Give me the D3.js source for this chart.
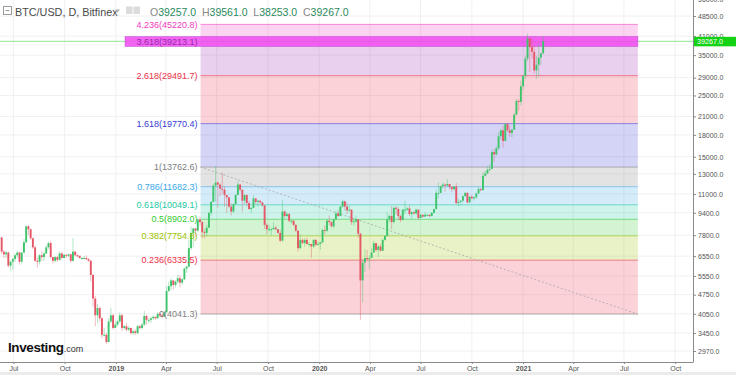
<!DOCTYPE html>
<html>
<head>
<meta charset="utf-8">
<script src="https://cdn.jsdelivr.net/npm/d3@7"></script>
<style>
body { margin: 0; background: #fff; }
svg { display: block; font-family: "Liberation Sans", Arial, sans-serif; }
</style>
</head>
<body>
<div id="chart"></div>
<script>
// BTC/USD Bitfinex, 4-day candles (open = previous close)
const candleStart = "2018-06-06"
const candleStepDays = 4
const closes = [
  7650, 6800, 6650, 6750, 6050, 6250, 6400, 6600, 6750, 6250, 6750, 7350, 8400, 8200, 7600, 7050, 6300, 6250, 6600, 6500,
  6700, 7050, 7300, 6500, 6300, 6500, 6350, 6700, 6450, 6620, 6580, 6650, 6300, 6800, 6600, 6570, 6450, 6450, 6450, 6380,
  6300, 5600, 4600, 4000, 4250, 3900, 3400, 3400, 3200, 3800, 4000, 3600, 3700, 3800, 4000, 3600, 3650, 3550, 3600, 3450,
  3500, 3450, 3650, 3600, 3700, 3980, 3850, 3850, 3900, 3950, 3900, 4050, 4000, 3950, 4100, 4900, 5100, 5350, 5150, 5300,
  5450, 5250, 5400, 5900, 6000, 7000, 7950, 8250, 8100, 8900, 8700, 8000, 7950, 8300, 9400, 10300, 11800, 12100, 11900, 11500,
  11400, 10900, 10700, 9900, 9500, 10100, 10900, 11900, 11400, 10400, 10900, 10200, 9700, 9800, 10600, 10300, 10400, 10250, 10000, 8500,
  8200, 8200, 8200, 8300, 8200, 7950, 7450, 9500, 9150, 9300, 8800, 8800, 8500, 8100, 7000, 7500, 7300, 7500, 7250, 7250,
  7100, 7500, 7200, 7250, 7350, 8150, 8100, 8800, 8700, 8400, 8900, 9350, 9150, 9900, 10350, 9900, 9600, 9650, 8700, 8750,
  8900, 7900, 5350, 6200, 6450, 6400, 6450, 6750, 7300, 6900, 7100, 6850, 7500, 7750, 8900, 9150, 8700, 9800, 9700, 9150,
  8850, 9650, 9650, 9750, 9300, 9450, 9350, 9650, 9000, 9250, 9100, 9250, 9250, 9150, 9400, 9700, 11100, 11100, 11750, 11900,
  11800, 11950, 11650, 11450, 11700, 10200, 10300, 10400, 10800, 11100, 10250, 10750, 10600, 10700, 11050, 11450, 11350, 12800, 13050, 13450,
  13550, 15600, 15300, 16100, 17800, 18700, 17100, 19700, 18700, 18300, 18800, 21300, 23900, 23700, 27000, 29400, 34000, 40200, 37400, 36000,
  30800, 32300, 34300, 35500, 39267
]
const highs = [
  7750, 7700, 6900, 6850, 6800, 6300, 6450, 6700, 6850, 6800, 6750, 7550, 8450, 8500, 8250, 7650, 7150, 6500, 6650, 6850,
  6800, 7150, 7400, 7450, 6500, 6550, 6550, 6800, 6800, 6650, 6650, 6700, 6700, 7600, 6850, 6650, 6570, 6500, 6550, 6600,
  6450, 6350, 5650, 4700, 4400, 4300, 3950, 3600, 3450, 3900, 4250, 4050, 3800, 3850, 4100, 4050, 3700, 3750, 3650, 3600,
  3550, 3550, 3700, 3700, 3750, 4150, 4000, 3900, 3950, 4000, 3950, 4100, 4100, 4050, 4150, 5100, 5300, 5450, 5350, 5350,
  5600, 5600, 5450, 5950, 6050, 7500, 8400, 8300, 8250, 8950, 9100, 8800, 8200, 8500, 9450, 10350, 11900, 13880, 12200, 12000,
  13200, 11700, 10900, 10700, 10200, 10150, 11000, 12300, 11950, 11400, 11000, 10950, 10400, 9850, 10900, 10600, 10450, 10400, 10300, 10000,
  8600, 8500, 8300, 8700, 8450, 8200, 8150, 10500, 9600, 9450, 9400, 8900, 8850, 8550, 8100, 7850, 7600, 7600, 7650, 7350,
  7250, 7550, 7550, 7400, 7400, 8250, 8450, 8900, 9200, 8750, 8950, 9550, 9600, 9950, 10500, 10400, 10250, 10000, 9650, 8900,
  9200, 8900, 7950, 6400, 6950, 6900, 6600, 7000, 7450, 7300, 7200, 7250, 7600, 7800, 9450, 9250, 9950, 9900, 9950, 9850,
  9250, 9700, 10400, 9850, 10000, 9500, 9550, 9750, 9650, 9300, 9200, 9450, 9300, 9250, 9450, 9700, 11400, 12100, 11800, 12100,
  12000, 12450, 11950, 11700, 11750, 12050, 10600, 10450, 10850, 11150, 11150, 10800, 10950, 10800, 11100, 11700, 11550, 13200, 13350, 13850,
  14100, 15950, 15950, 16400, 18450, 18950, 19450, 19850, 19900, 19400, 18900, 21600, 24300, 24200, 28300, 29700, 34800, 41950, 40500, 40100,
  37800, 34800, 38500, 35800, 40900
]
const lows = [
  7450, 6650, 6450, 6450, 5950, 5800, 5850, 6250, 6450, 6100, 6150, 6700, 7300, 7800, 7500, 6950, 6250, 5950, 6100, 6300,
  6300, 6650, 6950, 6400, 6150, 6200, 6250, 6300, 6400, 6450, 6450, 6500, 6200, 6250, 6550, 6500, 6420, 6350, 6400, 6350,
  6250, 5300, 4300, 3650, 3750, 3800, 3300, 3350, 3150, 3200, 3750, 3550, 3600, 3650, 3750, 3500, 3550, 3500, 3500, 3400,
  3400, 3400, 3400, 3550, 3550, 3650, 3700, 3750, 3750, 3850, 3850, 3900, 3950, 3900, 3950, 4100, 4850, 4950, 4950, 5050,
  5200, 5050, 5150, 5350, 5700, 5950, 6900, 7050, 7700, 8000, 8450, 7600, 7600, 7700, 8300, 9200, 10300, 10300, 9800, 10800,
  11000, 9900, 9400, 9800, 9200, 9400, 10050, 10900, 11200, 9500, 10100, 9900, 9650, 9350, 9800, 10100, 9900, 10150, 9900, 8200,
  7850, 8050, 7800, 8200, 8100, 7900, 7350, 7400, 8950, 9050, 8700, 8600, 8400, 8000, 6800, 6950, 7250, 7100, 7200, 7050,
  6450, 7000, 7100, 7150, 6900, 7300, 7850, 8000, 8500, 8300, 8250, 8850, 9100, 9150, 9800, 9550, 9300, 9500, 8500, 8450,
  8650, 7650, 3850, 4450, 5750, 6300, 5900, 6450, 6750, 6800, 6500, 6800, 6850, 7450, 7700, 8700, 8200, 8600, 9300, 8850,
  8700, 8850, 9300, 9550, 9150, 8950, 9250, 9250, 8850, 9000, 9050, 9150, 9150, 9050, 9100, 9350, 9650, 10600, 11050, 11500,
  11200, 11700, 11400, 11150, 11300, 10050, 9900, 10000, 10250, 10750, 10150, 10250, 10550, 10400, 10550, 11000, 11250, 11350, 12700, 12950,
  13250, 13550, 14400, 15150, 15850, 17300, 16200, 17500, 18500, 17700, 17600, 18900, 21300, 22000, 23000, 26000, 28600, 33200, 30400, 33900,
  30000, 28800, 29200, 32300, 35500
]

const xTickDates = ["2018-07-01", "2018-10-01", "2019-01-01", "2019-04-01", "2019-07-01", "2019-10-01", "2020-01-01",
  "2020-04-01", "2020-07-01", "2020-10-01", "2021-01-01", "2021-04-01", "2021-07-01", "2021-10-01"]
const xTickLabels = ["Jul", "Oct", "2019", "Apr", "Jul", "Oct", "2020", "Apr", "Jul", "Oct", "2021", "Apr", "Jul", "Oct"]
const yTicks = [56000, 48500, 41000, 35000, 29000, 25000, 21000, 18000, 15000, 13000, 11000, 9400, 7800, 6550, 5550, 4750, 4050, 3450, 2970]

const fibLevels = [0, 0.236, 0.382, 0.5, 0.618, 0.786, 1, 1.618, 2.618, 3.618, 4.236]
const fibPrices = [4041.3, 6335.5, 7754.8, 8902.0, 10049.1, 11682.3, 13762.6, 19770.4, 29491.7, 39213.1, 45220.8]
const fibColors = ["#808080", "#ec3048", "#9bc300", "#33cc33", "#1dc9a4", "#3aa8e8", "#808080", "#3a3ad6", "#ec3048", "#9c27b0", "#f03cc0"]
const fibFrom = "2019-06-02"
const fibTo = "2021-07-26"

const lastPrice = 39267.0
const ohlc = [["O", "39257.0"], ["H", "39561.0"], ["L", "38253.0"], ["C", "39267.0"]]

const W = 736, H = 375
const plotRight = 693, plotBottom = 362
const parse = d3.timeParse("%Y-%m-%d")

let svg = d3.select("#chart").append("svg").attr("width", W).attr("height", H)
svg.append("rect").attr("width", W).attr("height", H).attr("fill", "#fff")
svg.append("defs").append("clipPath").attr("id", "plot")
  .append("rect").attr("width", plotRight).attr("height", plotBottom)

let x = d3.scaleTime()
  .domain([parse("2018-06-07"), parse("2021-11-02")])
  .range([0, plotRight])
let y = d3.scaleLog()
  .domain([2970, 48500])
  .range([351, 16])

// grid
let grid = svg.append("g").attr("clip-path", "url(#plot)")
grid.selectAll(".gv").data(xTickDates.map(parse)).enter().append("line")
  .attr("x1", d => x(d)).attr("x2", d => x(d)).attr("y1", 0).attr("y2", plotBottom)
  .attr("stroke", "#f0f0f0")
grid.selectAll(".gh").data(yTicks).enter().append("line")
  .attr("x1", 0).attr("x2", plotRight).attr("y1", d => y(d)).attr("y2", d => y(d))
  .attr("stroke", "#f0f0f0")

// fib retracement
let fx1 = x(parse(fibFrom)), fx2 = x(parse(fibTo))
let fib = svg.append("g").attr("clip-path", "url(#plot)")
fib.selectAll(".band").data(fibPrices.slice(1)).enter().append("rect")
  .attr("x", fx1).attr("width", fx2 - fx1)
  .attr("y", d => y(d))
  .attr("height", (d, i) => y(fibPrices[i]) - y(d))
  .attr("fill", (d, i) => fibColors[i + 1])
  .attr("fill-opacity", 0.22)

// current price line
svg.append("line").attr("clip-path", "url(#plot)")
  .attr("x1", 0).attr("x2", plotRight).attr("y1", y(lastPrice)).attr("y2", y(lastPrice))
  .attr("stroke", "#8fe98f").attr("stroke-width", 1)

// highlighted 3.618 level
let hiY = y(fibPrices[9])
svg.append("rect")
  .attr("x", 125).attr("width", fx2 - 125)
  .attr("y", hiY - 5).attr("height", 10)
  .attr("fill", "#f04ef0").attr("fill-opacity", 0.88)
  .attr("stroke", "#b040c8").attr("stroke-opacity", 0.5).attr("stroke-width", 0.8)

fib.selectAll(".lvl").data(fibPrices).enter().append("line")
  .attr("x1", fx1).attr("x2", fx2)
  .attr("y1", d => y(d)).attr("y2", d => y(d))
  .attr("stroke", (d, i) => fibColors[i])
  .attr("stroke-opacity", 0.55)

// trend line of the drawing
svg.append("line")
  .attr("x1", fx1).attr("y1", y(fibPrices[6]))
  .attr("x2", fx2).attr("y2", y(fibPrices[0]))
  .attr("stroke", "#a8a8a8").attr("stroke-dasharray", "2,2").attr("stroke-width", 0.8)

// candles
let start = parse(candleStart)
let candles = closes.map(function(c, i) {
  return {
    date: d3.timeDay.offset(start, i * candleStepDays),
    open: i ? closes[i - 1] : c,
    high: highs[i], low: lows[i], close: c
  }
})
const upColor = "#3fc46c", downColor = "#e55766"
let cg = svg.append("g").attr("clip-path", "url(#plot)")
cg.selectAll(".wick").data(candles).enter().append("line")
  .attr("x1", d => x(d.date)).attr("x2", d => x(d.date))
  .attr("y1", d => y(d.high)).attr("y2", d => y(d.low))
  .attr("stroke", d => d.close >= d.open ? upColor : downColor)
  .attr("stroke-opacity", 0.45).attr("stroke-width", 0.9)
cg.selectAll(".body").data(candles).enter().append("rect")
  .attr("x", d => x(d.date) - 0.95).attr("width", 1.9)
  .attr("y", d => y(Math.max(d.open, d.close)))
  .attr("height", d => Math.max(1, Math.abs(y(d.open) - y(d.close))))
  .attr("fill", d => d.close >= d.open ? upColor : downColor)

// fib labels
svg.append("g").selectAll("text").data(fibPrices).enter().append("text")
  .attr("x", fx1 - 3).attr("y", d => y(d)).attr("dy", "0.35em")
  .attr("text-anchor", "end")
  .attr("font-size", 9)
  .attr("fill", (d, i) => fibColors[i])
  .text((d, i) => fibLevels[i] + "(" + d.toFixed(1) + ")")

// right axis
let yAxis = svg.append("g").attr("transform", "translate(" + plotRight + ",0)")
  .call(d3.axisRight(y).tickValues(yTicks).tickFormat(d3.format(".1f")).tickSize(3).tickPadding(2).tickSizeOuter(0))
yAxis.select(".domain").attr("d", "M0.5,0V" + plotBottom).attr("stroke", "#8a8a8a")
yAxis.selectAll(".tick line").attr("stroke", "#8a8a8a")
yAxis.selectAll("text").attr("font-size", 7).attr("fill", "#555").attr("font-family", "Liberation Sans, Arial")

// last price tag
svg.append("rect").attr("x", plotRight + 1).attr("y", y(lastPrice) - 4.5)
  .attr("width", W - plotRight - 1).attr("height", 9.5).attr("fill", "#14d214")
svg.append("text").attr("x", plotRight + 4).attr("y", y(lastPrice)).attr("dy", "0.35em")
  .attr("font-size", 7.2).attr("fill", "#fff").text(lastPrice.toFixed(1))

// bottom axis
svg.append("rect").attr("x", 0).attr("y", plotBottom).attr("width", W).attr("height", H - plotBottom).attr("fill", "#fff")
let xAxis = svg.append("g").attr("transform", "translate(0," + plotBottom + ")")
  .call(d3.axisBottom(x).tickValues(xTickDates.map(parse))
    .tickFormat((d, i) => xTickLabels[i]).tickSize(2).tickPadding(2).tickSizeOuter(0))
xAxis.select(".domain").attr("d", "M0,0.5H" + (plotRight + 0.5)).attr("stroke", "#8a8a8a")
xAxis.selectAll(".tick line").attr("stroke", "#8a8a8a")
xAxis.selectAll("text").attr("font-size", 7).attr("fill", "#555").attr("font-family", "Liberation Sans, Arial")
  .attr("font-weight", (d, i) => /^\d{4}$/.test(xTickLabels[i]) ? "bold" : "normal")
svg.append("rect").attr("x", 0).attr("y", 372).attr("width", W).attr("height", 3).attr("fill", "#ebebeb")

// header
let hd = svg.append("g")
hd.append("rect").attr("x", 3.5).attr("y", 6.5).attr("width", 8).attr("height", 8)
  .attr("fill", "none").attr("stroke", "#9a9a9a")
hd.append("line").attr("x1", 5.5).attr("x2", 9.5).attr("y1", 10.5).attr("y2", 10.5).attr("stroke", "#9a9a9a")
hd.append("text").attr("x", 15).attr("y", 15.5).attr("font-size", 10.8).attr("fill", "#4a4a4a")
  .text("BTC/USD, D, Bitfinex")
hd.append("path").attr("d", "M115,9.5h5l-2.5,3z").attr("fill", "#b0b0b0")
hd.append("rect").attr("x", 126).attr("y", 6.5).attr("width", 6.5).attr("height", 7.5).attr("fill", "#dcdcdc")
hd.append("rect").attr("x", 133.5).attr("y", 6.5).attr("width", 6.5).attr("height", 7.5).attr("fill", "#dcdcdc")
let ohlcText = hd.append("text").attr("x", 150).attr("y", 15.5).attr("font-size", 10.5)
  .attr("xml:space", "preserve")
ohlc.forEach(function(p, i) {
  ohlcText.append("tspan").attr("fill", "#888").text((i ? "  " : "") + p[0])
  ohlcText.append("tspan").attr("fill", "#2a8a5e").text(p[1])
})

// logo
let logo = svg.append("text").attr("x", 8).attr("y", 352)
logo.append("tspan").attr("font-size", 13.5).attr("font-weight", "bold").attr("fill", "#111")
  .attr("letter-spacing", -0.4).text("Investing")
logo.append("tspan").attr("font-size", 9).attr("fill", "#333").text(".com")
</script>
</body>
</html>
